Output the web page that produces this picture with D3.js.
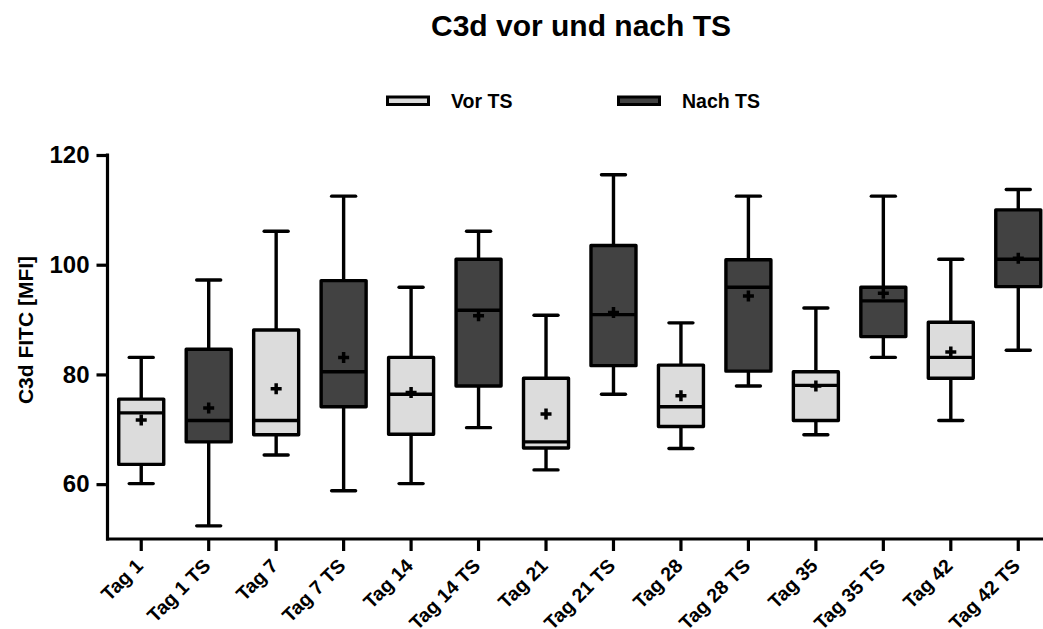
<!DOCTYPE html>
<html>
<head>
<meta charset="utf-8">
<script src="https://cdn.jsdelivr.net/npm/d3@7"></script>
<style>
  html, body { margin: 0; padding: 0; background: #fff; }
  svg { display: block; font-family: "Liberation Sans", Arial, sans-serif; }
</style>
</head>
<body>
<svg id="chart" width="1043" height="629"></svg>
<script>
// Categories along the x axis
const categories = ["Tag 1", "Tag 1 TS", "Tag 7", "Tag 7 TS", "Tag 14", "Tag 14 TS",
  "Tag 21", "Tag 21 TS", "Tag 28", "Tag 28 TS", "Tag 35", "Tag 35 TS", "Tag 42", "Tag 42 TS"];
// Group of each box: 0 = Vor TS, 1 = Nach TS
const groups = [0, 1, 0, 1, 0, 1, 0, 1, 0, 1, 0, 1, 0, 1];
// Five-number summaries (C3d FITC, MFI) and means
const whiskerLow  = [60.1, 52.4, 65.3, 58.8, 60.1, 70.3, 62.6, 76.4, 66.5, 77.9, 69.0, 83.1, 71.6, 84.4];
const q1          = [63.6, 67.7, 69.0, 74.1, 69.1, 77.9, 66.6, 81.6, 70.5, 80.6, 71.6, 86.9, 79.3, 96.0];
const medians     = [73.0, 71.6, 71.6, 80.5, 76.4, 91.7, 67.7, 90.9, 74.1, 95.9, 78.0, 93.4, 83.1, 101.0];
const q3          = [75.5, 84.6, 88.1, 97.1, 83.1, 101.0, 79.3, 103.5, 81.7, 100.9, 80.5, 95.9, 89.5, 110.0];
const whiskerHigh = [83.1, 97.2, 106.1, 112.5, 95.9, 106.1, 90.8, 116.4, 89.4, 112.5, 92.1, 112.5, 101.0, 113.7];
const means       = [71.7, 73.9, 77.4, 83.1, 76.7, 90.7, 72.8, 91.3, 76.1, 94.3, 77.9, 94.8, 84.1, 101.2];
// Y axis ticks and legend
const yTicks = [60, 80, 100, 120];
const seriesNames = ["Vor TS", "Nach TS"];
const seriesColors = ["#dcdcdc", "#424242"];

const data = categories.map((c, i) => ({
  cat: c, group: groups[i], lo: whiskerLow[i], q1: q1[i], med: medians[i],
  q3: q3[i], hi: whiskerHigh[i], mean: means[i]
}));

const svg = d3.select("#chart");
const plotLeft = 107.5, plotRight = 1052, plotTop = 155, plotBottom = 539;

const x = d3.scaleBand().domain(categories).range([plotLeft, plotRight]);
const y = d3.scaleLinear().domain([50, 120]).range([plotBottom, plotTop]);

const boxW = 45, capW = 24, lw = 3.4;

// Title
svg.append("text")
  .attr("x", 581).attr("y", 36)
  .attr("text-anchor", "middle")
  .attr("font-size", 30).attr("font-weight", "bold")
  .text("C3d vor und nach TS");

// Legend
const legendX = [386, 617];
seriesNames.forEach((name, i) => {
  svg.append("rect")
    .attr("x", legendX[i] + 1.5).attr("y", 97)
    .attr("width", 41).attr("height", 7.5)
    .attr("fill", seriesColors[i]).attr("stroke", "#000").attr("stroke-width", 3);
  svg.append("text")
    .attr("x", legendX[i] + 65).attr("y", 108)
    .attr("font-size", 19.5).attr("font-weight", "bold")
    .text(name);
});

// Axes
const yAxis = svg.append("g")
  .attr("transform", `translate(${plotLeft},0)`)
  .call(d3.axisLeft(y).tickValues(yTicks).tickSize(11).tickPadding(7).tickSizeOuter(0));
yAxis.select(".domain").remove();
yAxis.append("line")
  .attr("x1", 0).attr("x2", 0).attr("y1", y(120) - 1.5).attr("y2", plotBottom + 1.5)
  .attr("stroke", "#000").attr("stroke-width", 3.2);
yAxis.selectAll(".tick line").attr("stroke", "#000").attr("stroke-width", 3.2);
yAxis.selectAll(".tick text").attr("font-size", 24).attr("font-weight", "bold")
  .attr("fill", "#000").attr("font-family", "Liberation Sans, Arial, sans-serif");

const xAxis = svg.append("g")
  .attr("transform", `translate(0,${plotBottom})`)
  .call(d3.axisBottom(x).tickSize(12).tickSizeOuter(0));
xAxis.select(".domain").remove();
xAxis.append("line")
  .attr("x1", plotLeft - 1.5).attr("x2", plotRight).attr("y1", 0).attr("y2", 0)
  .attr("stroke", "#000").attr("stroke-width", 3.2);
xAxis.selectAll(".tick line").attr("stroke", "#000").attr("stroke-width", 3.2);
xAxis.selectAll(".tick text")
  .attr("font-size", 19.5).attr("font-weight", "bold").attr("fill", "#000")
  .attr("font-family", "Liberation Sans, Arial, sans-serif")
  .attr("text-anchor", "end")
  .attr("dy", null).attr("y", 0)
  .attr("transform", "translate(3,28) rotate(-45)");

// Y axis title
svg.append("text")
  .attr("transform", "translate(33,330) rotate(-90)")
  .attr("text-anchor", "middle")
  .attr("font-size", 21).attr("font-weight", "bold")
  .text("C3d FITC [MFI]");

// Box plots
const boxes = svg.append("g").selectAll("g").data(data).join("g")
  .attr("transform", d => `translate(${x(d.cat) + x.bandwidth() / 2},0)`);

const stroke = sel => sel.attr("stroke", "#000").attr("stroke-width", lw);

// whiskers
boxes.append("line").attr("x1", 0).attr("x2", 0)
  .attr("y1", d => y(d.hi)).attr("y2", d => y(d.q3)).call(stroke);
boxes.append("line").attr("x1", 0).attr("x2", 0)
  .attr("y1", d => y(d.q1)).attr("y2", d => y(d.lo)).call(stroke);
boxes.append("line").attr("x1", -capW / 2).attr("x2", capW / 2)
  .attr("y1", d => y(d.hi)).attr("y2", d => y(d.hi)).attr("stroke-linecap", "round").call(stroke);
boxes.append("line").attr("x1", -capW / 2).attr("x2", capW / 2)
  .attr("y1", d => y(d.lo)).attr("y2", d => y(d.lo)).attr("stroke-linecap", "round").call(stroke);

// box
boxes.append("rect")
  .attr("x", -boxW / 2).attr("width", boxW)
  .attr("y", d => y(d.q3)).attr("height", d => y(d.q1) - y(d.q3))
  .attr("fill", d => seriesColors[d.group])
  .attr("stroke-linejoin", "round")
  .call(stroke);

// median
boxes.append("line").attr("x1", -boxW / 2).attr("x2", boxW / 2)
  .attr("y1", d => y(d.med)).attr("y2", d => y(d.med)).call(stroke);

// mean marker (+)
boxes.append("path")
  .attr("d", d => `M-5.5,${y(d.mean)}H5.5M0,${y(d.mean) - 5.5}V${y(d.mean) + 5.5}`)
  .attr("stroke", "#000").attr("stroke-width", 3.5).attr("fill", "none");
</script>
</body>
</html>
